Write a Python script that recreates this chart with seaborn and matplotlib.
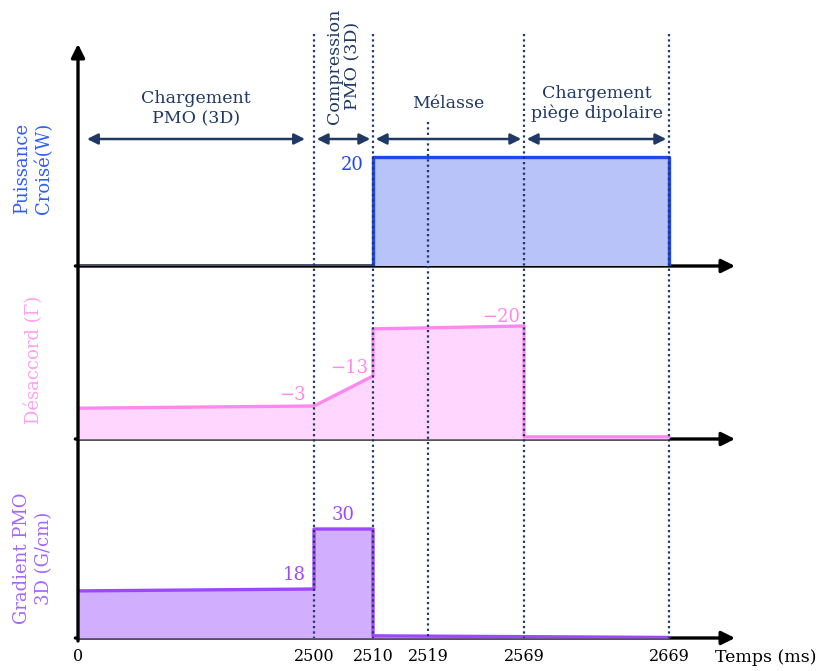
import numpy as np
import matplotlib
matplotlib.use('Agg')
import matplotlib.pyplot as plt
import matplotlib.transforms as mtransforms
from matplotlib.lines import Line2D
import seaborn as sns

# time markers (ms) of the sequence
time_ticks = [0, 2500, 2510, 2519, 2569, 2669]
tick_labels = ['0', '2500', '2510', '2519', '2569', '2669']

# phases of the sequence
phase_bounds = [0, 2500, 2510, 2569, 2669]
phase_names = ['Chargement\nPMO (3D)', 'Compression\nPMO (3D)', 'Mélasse',
               'Chargement\npiège dipolaire']

# Puissance croisé (W)
power_t = [0, 2510, 2510, 2669, 2669]
power_v = [0, 0, 20, 20, 0]

# Désaccord (Gamma)
detuning_t = [0, 2500, 2510, 2510, 2569, 2569, 2669]
detuning_v = [-2.8, -3, -13, -19.6, -20, -0.2, -0.2]

# Gradient PMO 3D (G/cm)
gradient_t = [0, 2500, 2500, 2510, 2510, 2669]
gradient_v = [17.3, 18, 30, 30, 0.8, 0.2]

# schematic (non linear) axes: where each marker sits, in pixels
tick_pos = [78, 314, 373, 428, 524, 669]
detuning_levels, detuning_px = [-20, -13, -3, 0], [-113, -63, -33, 0]
gradient_levels, gradient_px = [0, 18, 30], [0, 49, 109]

navy = '#1f3864'
blue, blue_fill = '#2046f0', '#b8c3fa'
pink, pink_fill = '#ff88f0', '#ffd6fe'
purple, purple_fill = '#9b48ff', '#d1aefe'

W, H = 822, 671


def piecewise(xp, fp):
    xp = np.asarray(xp, float)
    fp = np.asarray(fp, float)
    s0 = (fp[1] - fp[0]) / (xp[1] - xp[0])
    s1 = (fp[-1] - fp[-2]) / (xp[-1] - xp[-2])

    def f(x):
        x = np.asarray(x, float)
        y = np.interp(x, xp, fp)
        y = np.where(x < xp[0], fp[0] + (x - xp[0]) * s0, y)
        y = np.where(x > xp[-1], fp[-1] + (x - xp[-1]) * s1, y)
        return y
    return f


t_fwd = piecewise(time_ticks, tick_pos)
t_inv = piecewise(tick_pos, time_ticks)
d_fwd = piecewise(detuning_levels, detuning_px)
d_inv = piecewise(detuning_px, detuning_levels)
g_fwd = piecewise(gradient_levels, gradient_px)
g_inv = piecewise(gradient_px, gradient_levels)


def fy(p):
    return 1 - p / H


sns.set_theme(style='white')
plt.rcParams['font.family'] = ['DejaVu Serif']

fig = plt.figure(figsize=(W / 100, H / 100), dpi=100)
x0, x1 = 78, 735
ax_p = fig.add_axes([x0 / W, fy(266), (x1 - x0) / W, (266 - 48) / H])
ax_d = fig.add_axes([x0 / W, fy(439), (x1 - x0) / W, (439 - 266) / H])
ax_g = fig.add_axes([x0 / W, fy(638), (x1 - x0) / W, (638 - 439) / H])

panels = [
    (ax_p, power_t, power_v, blue, blue_fill),
    (ax_d, detuning_t, detuning_v, pink, pink_fill),
    (ax_g, gradient_t, gradient_v, purple, purple_fill),
]

for ax, t, v, lc, fc in panels:
    ax.annotate('', xy=(1.0, 0), xytext=(-0.004, 0), xycoords='axes fraction',
                arrowprops=dict(arrowstyle='-|>', color='black', lw=2.4,
                                mutation_scale=20, shrinkA=0, shrinkB=0),
                zorder=1)
    ax.fill_between(t, v, 0, color=fc, lw=0, zorder=2)
    sns.lineplot(x=t, y=v, ax=ax, color=lc, lw=2.4, sort=False,
                 estimator=None, zorder=3)
    ax.set_xscale('function', functions=(t_fwd, t_inv))
    ax.set_xlim(0, float(t_inv(x1)))
    for s in ax.spines.values():
        s.set_visible(False)
    ax.patch.set_alpha(0)

ax_p.set_ylim(0, 20 * (266 - 48) / 109)
ax_d.set_yscale('function', functions=(d_fwd, d_inv))
ax_d.set_ylim(0, float(d_inv(-(439 - 266))))
ax_g.set_yscale('function', functions=(g_fwd, g_inv))
ax_g.set_ylim(0, float(g_inv(638 - 439)))

for ax in (ax_p, ax_d, ax_g):
    ax.set_yticks([])
    ax.set_ylabel('')
for ax in (ax_p, ax_d):
    ax.set_xticks([])
ax_g.set_xticks(time_ticks)
ax_g.set_xticklabels(tick_labels)
ax_g.tick_params(axis='x', length=0, pad=7, labelsize=11.5, labelcolor='black')
ax_g.set_xlabel('')

# vertical axis
fig.add_artist(matplotlib.patches.FancyArrowPatch(
    (x0 / W, fy(641)), (x0 / W, fy(44)), transform=fig.transFigure,
    arrowstyle='-|>', color='black', lw=2.4, mutation_scale=20,
    shrinkA=0, shrinkB=0))

blend = mtransforms.blended_transform_factory(ax_g.transData, fig.transFigure)

# dotted phase boundaries
for t in phase_bounds[1:]:
    fig.add_artist(Line2D([t, t], [fy(34), fy(638)], transform=blend,
                          color=navy, lw=1.6, ls=(0, (1, 1.4))))
fig.add_artist(Line2D([2519, 2519], [fy(122), fy(638)], transform=blend,
                      color=navy, lw=1.6, ls=(0, (1, 1.4))))

# phase arrows and names
for i, name in enumerate(phase_names):
    ta, tb = phase_bounds[i], phase_bounds[i + 1]
    sh = 6.5 if i == 0 else 2
    fig.add_artist(matplotlib.patches.FancyArrowPatch(
        (ta, fy(139)), (tb, fy(139)), transform=blend, arrowstyle='<|-|>',
        color=navy, lw=1.8, mutation_scale=16, shrinkA=sh, shrinkB=sh))
    mid = float(t_inv((t_fwd(ta) + t_fwd(tb)) / 2))
    if i == 1:
        fig.text(mid, fy(66), name, transform=blend, rotation=90, ha='center',
                 va='center', multialignment='center', color=navy, fontsize=12.5,
                 linespacing=1.15)
    elif i == 0:
        fig.text(mid, fy(109), name, transform=blend, ha='center', va='center',
                 color=navy, fontsize=12.5, linespacing=1.25)
    elif i == 2:
        fig.text(mid, fy(104), name, transform=blend, ha='center', va='center',
                 color=navy, fontsize=12.5)
    else:
        fig.text(mid, fy(103.5), name, transform=blend, ha='center', va='center',
                 color=navy, fontsize=12.5, linespacing=1.25)


# value labels
def label(ax, t, v, txt, color, dx, dy, ha='right'):
    ax.annotate(txt, xy=(t, v), xytext=(dx, dy), textcoords='offset pixels',
                ha=ha, va='center', color=color, fontsize=13,
                annotation_clip=False)


label(ax_p, 2510, 20, '20', blue, -9, -8)
label(ax_d, 2500, -3, '−3', pink, -8, 11)
label(ax_d, 2510, -13, '−13', pink, -5, 8)
label(ax_d, 2569, -20, '−20', pink, -4, 9)
label(ax_g, 2500, 18, '18', purple, -8, 14)
label(ax_g, 2505, 30, '30', purple, 0, 14, ha='center')

# y labels
fig.text(33 / W, fy(168), 'Puissance\nCroisé(W)', rotation=90, ha='center',
         va='center', color='#2f5cff', fontsize=13, linespacing=1.3)
fig.text(34 / W, fy(360), 'Désaccord (Γ)', rotation=90, ha='center',
         va='center', color='#ffa0f2', fontsize=13)
fig.text(33 / W, fy(558), 'Gradient PMO\n3D (G/cm)', rotation=90, ha='center',
         va='center', color='#a467ff', fontsize=13, linespacing=1.3)

fig.text(715 / W, fy(658), 'Temps (ms)', ha='left', va='center',
         color='black', fontsize=12.5)

fig.savefig('out.png', dpi=100)
